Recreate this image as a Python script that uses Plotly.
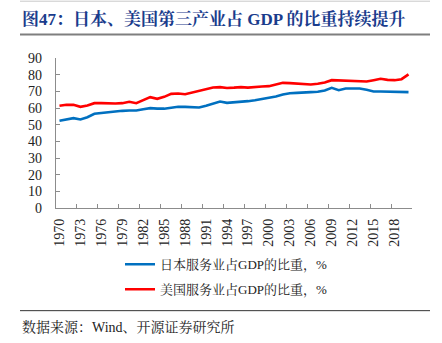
import plotly.graph_objects as go

# Years shown on the category-like x axis
years = list(range(1970, 2021))

# Services share of GDP (%)
japan_services = [
    52.3, 53.1, 53.9, 53.1, 54.5, 56.5, 57.0, 57.7, 58.1, 58.3,
    58.5, 58.5, 59.3, 59.9, 59.6, 59.6, 60.2, 60.7, 60.7, 60.5,
    60.3, 61.3, 62.5, 63.9, 63.1, 63.3, 63.5, 64.1, 64.7, 65.5,
    65.9, 66.9, 68.1, 68.9, 69.1, 69.5, 69.5, 69.7, 70.5, 72.1,
    70.7, 71.7, 71.9, 71.7, 70.9, 69.9, 69.9, 69.7, 69.5, 69.5,
    69.5,
]
us_services = [
    61.3, 61.9, 61.9, 60.7, 61.5, 62.9, 62.9, 62.7, 62.7, 62.9,
    63.7, 62.9, 64.5, 66.5, 65.5, 66.7, 68.5, 68.7, 68.3, 69.3,
    70.1, 71.5, 72.3, 72.5, 72.0, 72.2, 72.5, 72.2, 72.7, 72.9,
    73.1, 74.3, 75.1, 74.9, 74.7, 74.5, 74.1, 74.5, 75.3, 76.7,
    76.5, 76.1, 76.3, 75.9, 75.9, 76.7, 77.5, 76.9, 76.7, 77.3,
    80.2,
]

label_years = list(range(1970, 2019, 3))
tick_bounds = [y + 2.5 for y in range(1970, 2019, 3)]
y_ticks = list(range(0, 91, 10))

title_text = "图47：日本、美国第三产业占 GDP 的比重持续提升"
source_text = "数据来源：Wind、开源证券研究所"
name_japan = "日本服务业占GDP的比重，%"
name_us = "美国服务业占GDP的比重，%"

W, H = 442, 343
L, R, T, B = 56, 30, 58, 134.5
pw, ph = W - L - R, H - T - B

def px(x):
    return (x - L) / pw

def py(y):
    return (H - B - y) / ph

serif = "Times New Roman, Liberation Serif, Noto Serif CJK SC, Noto Sans CJK SC, serif"
axis_color = "#8c8c8c"

fig = go.Figure()
fig.add_trace(go.Scatter(
    x=years, y=japan_services, mode="lines", name=name_japan,
    line=dict(color="#0070C0", width=2.6), legendgroup="jp",
))
fig.add_trace(go.Scatter(
    x=years, y=us_services, mode="lines", name=name_us,
    line=dict(color="#FF0000", width=2.6), legendgroup="us",
))
# invisible helper trace that carries the boundary tick axis
fig.add_trace(go.Scatter(
    x=[years[0]], y=[0], xaxis="x2", mode="markers",
    marker=dict(opacity=0), showlegend=False, hoverinfo="skip",
))

fig.update_layout(
    width=W, height=H,
    margin=dict(l=L, r=R, t=T, b=B),
    paper_bgcolor="white", plot_bgcolor="white",
    font=dict(family=serif, size=14, color="#222222"),
    showlegend=True,
    legend=dict(
        x=px(120), y=py(250), xanchor="left", yanchor="top",
        font=dict(family=serif, size=13, color="#222222"),
        tracegroupgap=5, bgcolor="rgba(0,0,0,0)",
    ),
    xaxis=dict(
        range=[1969.5, 2020.5], tickmode="array", tickvals=label_years,
        ticktext=[str(y) for y in label_years], tickangle=-90,
        ticks="", showline=True, linecolor=axis_color, linewidth=1.2,
        showgrid=False, zeroline=False, ticklabelstandoff=4,
        tickfont=dict(family=serif, size=14, color="#222222"),
    ),
    xaxis2=dict(
        range=[1969.5, 2020.5], overlaying="x", anchor="y", side="bottom",
        tickmode="array", tickvals=tick_bounds + [2020.5], ticks="inside",
        ticklen=4, tickcolor=axis_color, tickwidth=1.2,
        showticklabels=False, showgrid=False, showline=False, zeroline=False,
    ),
    yaxis=dict(
        range=[0, 90], tickmode="array", tickvals=y_ticks,
        ticks="inside", ticklen=4, tickcolor=axis_color, tickwidth=1.2,
        showline=True, linecolor=axis_color, linewidth=1.2,
        showgrid=False, zeroline=False, ticklabelstandoff=10,
        tickfont=dict(family=serif, size=14, color="#222222"),
    ),
)

fig.add_annotation(
    xref="paper", yref="paper", x=px(20), y=py(19), xanchor="left", yanchor="middle",
    text="<b>" + title_text + "</b>", showarrow=False,
    font=dict(family=serif, size=17, color="#1A3C8C"),
)
fig.add_annotation(
    xref="paper", yref="paper", x=px(20), y=py(328), xanchor="left", yanchor="middle",
    text=source_text, showarrow=False,
    font=dict(family=serif, size=14, color="#222222"),
)

# rules framing the header and the footer
fig.add_shape(type="line", xref="paper", yref="paper",
              x0=px(20), x1=px(430), y0=py(1), y1=py(1),
              line=dict(color="#c8c8c8", width=1))
fig.add_shape(type="line", xref="paper", yref="paper",
              x0=px(20), x1=px(430), y0=py(34.5), y1=py(34.5),
              line=dict(color="#7f7f7f", width=2))
fig.add_shape(type="line", xref="paper", yref="paper",
              x0=px(20), x1=px(430), y0=py(311.5), y1=py(311.5),
              line=dict(color="#333333", width=1))

fig.write_html("out.html")
